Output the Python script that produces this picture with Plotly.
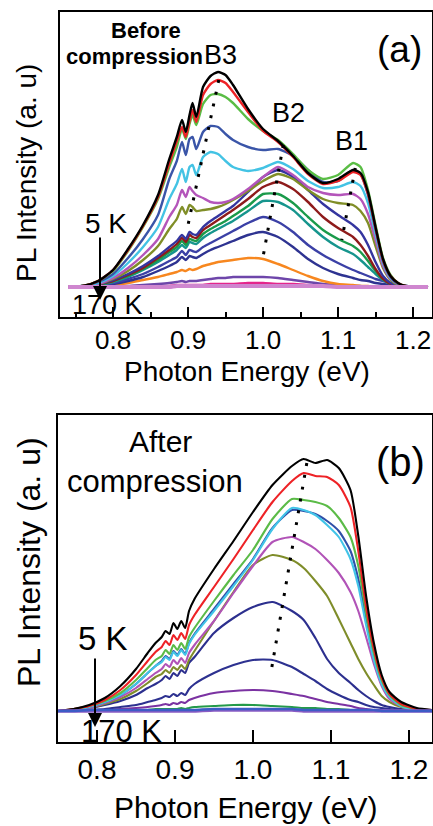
import plotly.graph_objects as go

# ---------------- Panel (a): before compression ----------------
energy_a = [0.74, 0.76, 0.78, 0.80, 0.82, 0.84, 0.86, 0.875, 0.885, 0.892, 0.897, 0.902,
            0.906, 0.911, 0.92, 0.93, 0.94, 0.95, 0.96, 0.98, 1.00, 1.02, 1.04, 1.06,
            1.08, 1.10, 1.12, 1.13, 1.14, 1.15, 1.16, 1.17, 1.18, 1.19, 1.22]

a_black = [0, 1, 6, 17, 38, 62, 92, 128, 150, 167, 155, 172, 184, 170, 200, 211, 215, 212,
           202, 178, 158, 146, 131, 114, 104, 108, 117, 114, 95, 60, 28, 11, 4, 1, 0]
a_red = [0, 1, 6, 17, 37, 61, 90, 124, 146, 160, 150, 166, 177, 165, 192, 203, 207, 204,
         195, 175, 156, 145, 130, 113, 103, 106, 115, 112, 93, 59, 27, 11, 4, 1, 0]
a_green = [0, 1, 6, 16, 36, 60, 88, 120, 140, 158, 148, 163, 172, 162, 183, 192, 193, 190,
           184, 168, 156, 147, 133, 117, 108, 112, 124, 120, 97, 62, 29, 12, 4, 1, 0]
a_blue = [0, 1, 5, 13, 29, 48, 72, 108, 126, 145, 132, 148, 150, 138, 155, 161, 160, 153,
          147, 140, 137, 138, 131, 117, 105, 106, 117, 113, 92, 58, 26, 10, 3, 1, 0]
a_cyan = [0, 1, 4, 11, 24, 40, 60, 88, 103, 118, 105, 120, 122, 112, 130, 135, 133, 126,
          120, 116, 119, 125, 118, 106, 99, 100, 105, 101, 84, 53, 24, 9, 3, 1, 0]
a_orchid = [0, 1, 3, 9, 19, 32, 48, 70, 82, 97, 90, 100, 96, 92, 89, 85, 84, 85,
            88, 98, 110, 120, 112, 100, 94, 92, 93, 88, 73, 47, 21, 8, 3, 1, 0]
a_olive = [0, 1, 3, 8, 16, 27, 41, 58, 68, 80, 73, 82, 80, 76, 77, 78, 80, 83,
           87, 96, 106, 113, 108, 97, 88, 84, 82, 76, 64, 41, 19, 7, 2, 1, 0]
a_navy = [0, 1, 3, 7, 13, 21, 31, 40, 46, 52, 48, 55, 53, 52, 60, 66, 71, 76,
          81, 95, 110, 117, 110, 97, 83, 72, 62, 55, 42, 25, 11, 4, 1, 0, 0]
a_darkred = [0, 1, 3, 6, 12, 19, 29, 37, 43, 49, 45, 52, 50, 49, 57, 62, 67, 72,
             77, 88, 100, 105, 98, 85, 70, 59, 50, 42, 31, 18, 8, 3, 1, 0, 0]
a_green2 = [0, 1, 2, 6, 11, 18, 27, 35, 40, 46, 42, 48, 47, 46, 53, 58, 62, 66,
            71, 81, 93, 93, 84, 70, 57, 48, 41, 35, 26, 16, 8, 3, 1, 0, 0]
a_teal = [0, 1, 2, 5, 10, 17, 25, 32, 37, 42, 39, 45, 44, 43, 49, 54, 58, 62,
          66, 76, 86, 85, 77, 63, 50, 40, 33, 27, 20, 13, 7, 3, 1, 0, 0]
a_blue3 = [0, 0, 2, 4, 8, 13, 20, 26, 30, 36, 32, 37, 36, 35, 40, 44, 48, 52,
           56, 64, 70, 65, 55, 42, 32, 24, 17, 14, 11, 8, 6, 4, 2, 1, 0]
a_blue4 = [0, 0, 1, 3, 6, 10, 16, 21, 25, 30, 27, 31, 30, 29, 33, 37, 40, 43,
           46, 52, 55, 50, 40, 28, 19, 13, 9, 7, 6, 4, 3, 2, 1, 0, 0]
a_orange = [0, 0, 1, 2, 4, 7, 10, 13, 15, 17, 16, 18, 17, 18, 21, 23, 25, 26,
            27, 29, 28, 23, 17, 11, 6, 3, 2, 1, 1, 0, 0, 0, 0, 0, 0]
a_purple = [0, 0, 0, 1, 1, 2, 3, 4, 5, 6, 5, 6, 6, 6, 7, 8, 9, 9,
            10, 10, 10, 9, 7, 5, 3, 2, 1, 1, 0, 0, 0, 0, 0, 0, 0]
a_pink = [0, 0, 0, 0, 0, 1, 1, 1, 2, 2, 2, 2, 2, 2, 2, 3, 3, 3,
          3, 4, 4, 3, 3, 2, 1, 1, 1, 0, 0, 0, 0, 0, 0, 0, 0]
a_lilac = [0, 0, 0, 0, 0, 0, 0, 0, 1, 1, 1, 1, 1, 1, 1, 1, 1, 1,
           1, 1, 1, 1, 1, 1, 1, 0, 0, 0, 0, 0, 0, 0, 0, 0, 0]

# peak-shift guides (energy, intensity end points)
a_b3_guide_e = [0.941, 0.900]
a_b3_guide_i = [207, 62]
a_b2_guide_e = [1.027, 1.000]
a_b2_guide_i = [142, 30]
a_b1_guide_e = [1.123, 1.105]
a_b1_guide_i = [119, 47]

# ---------------- Panel (b): after compression ----------------
energy_b = [0.75, 0.77, 0.79, 0.81, 0.83, 0.85, 0.865, 0.875, 0.883, 0.888, 0.893, 0.898,
            0.903, 0.908, 0.913, 0.918, 0.925, 0.95, 0.975, 1.0, 1.025, 1.05, 1.065, 1.08,
            1.095, 1.11, 1.125, 1.135, 1.145, 1.155, 1.165, 1.175, 1.19, 1.21, 1.23]

b_black = [0, 2, 6, 13, 25, 42, 58, 68, 74, 80, 77, 88, 82, 90, 83, 100, 112, 142,
           170, 199, 226, 245, 252, 248, 251, 243, 221, 175, 115, 68, 36, 19, 9, 3, 1]
b_red = [0, 2, 5, 11, 21, 36, 50, 59, 64, 70, 66, 76, 71, 78, 72, 86, 96, 124,
         152, 181, 209, 230, 238, 235, 234, 226, 204, 160, 104, 62, 33, 17, 7, 2, 1]
b_green = [0, 2, 5, 10, 18, 31, 43, 51, 55, 61, 57, 66, 61, 68, 62, 74, 83, 110,
           136, 161, 192, 212, 211, 209, 205, 193, 174, 145, 98, 58, 31, 16, 6, 2, 0]
b_cyan = [0, 1, 4, 9, 16, 27, 38, 45, 49, 54, 51, 59, 55, 61, 56, 67, 76, 100,
          125, 151, 182, 203, 201, 196, 186, 174, 152, 125, 86, 51, 27, 14, 5, 1, 0]
b_blue = [0, 1, 4, 9, 16, 27, 38, 45, 50, 55, 52, 60, 56, 62, 57, 68, 77, 102,
          127, 152, 183, 201, 200, 197, 190, 180, 160, 132, 92, 55, 29, 15, 6, 2, 0]
b_orchid = [0, 1, 3, 8, 14, 23, 32, 38, 42, 47, 44, 51, 47, 53, 48, 58, 66, 90,
            118, 145, 169, 174, 169, 162, 151, 138, 119, 100, 74, 47, 25, 12, 5, 1, 0]
b_olive = [0, 1, 3, 7, 12, 20, 28, 34, 37, 41, 38, 44, 41, 46, 42, 51, 60, 90,
           119, 146, 156, 151, 143, 130, 115, 92, 68, 52, 38, 26, 15, 9, 4, 1, 0]
b_navy = [0, 1, 3, 6, 10, 16, 23, 27, 31, 35, 32, 38, 35, 41, 38, 48, 54, 78,
          93, 104, 109, 100, 91, 73, 52, 38, 28, 21, 15, 10, 6, 4, 2, 1, 0]
b_navy2 = [0, 0, 1, 2, 4, 6, 9, 11, 13, 15, 14, 17, 15, 18, 16, 22, 27, 38,
           46, 51, 51, 44, 37, 30, 22, 16, 11, 9, 6, 4, 3, 2, 1, 0, 0]
b_purple = [0, 0, 1, 1, 2, 3, 4, 5, 6, 7, 6, 8, 7, 9, 8, 11, 13, 18,
            20, 21, 20, 17, 15, 12, 9, 7, 5, 3, 2, 1, 1, 0, 0, 0, 0]
b_green2 = [0, 0, 0, 0, 1, 1, 1, 2, 2, 2, 2, 2, 2, 3, 2, 3, 4, 5,
            6, 6, 5, 4, 3, 3, 2, 2, 1, 1, 1, 0, 0, 0, 0, 0, 0]
b_blue_low = [0, 0, 1, 1, 1, 1, 1, 1, 1, 1, 1, 1, 1, 1, 1, 1, 1, 2,
              2, 2, 2, 2, 1, 1, 1, 1, 1, 1, 1, 1, 0, 0, 0, 0, 0]
b_violet_low = [0, 0, 0, 0, 0, 0, 0, 0, 0, 0, 0, 0, 0, 0, 0, 0, 0, 1,
                1, 1, 1, 1, 0, 0, 0, 0, 0, 0, 0, 0, 0, 0, 0, 0, 0]

b_guide_e = [1.069, 1.024]
b_guide_i = [248, 43]

ticks_major = [0.8, 0.9, 1.0, 1.1, 1.2]
tick_text = ["0.8", "0.9", "1.0", "1.1", "1.2"]
ticks_minor = [0.75, 0.85, 0.95, 1.05, 1.15]

# ---------------- styling ----------------
FONT = "Liberation Sans, Arial, sans-serif"
W, H = 433, 826

series_a = [  # drawn bottom-up so the 5 K spectrum ends on top
    (a_pink, "#e4258c", 2.4), (a_purple, "#6e46aa", 2.4), (a_orange, "#f7871f", 2.4),
    (a_blue4, "#2e3391", 2.4), (a_blue3, "#3b40a6", 2.4), (a_teal, "#16958d", 2.4),
    (a_green2, "#1a9a4a", 2.4), (a_darkred, "#8e1b1b", 2.4), (a_navy, "#34359f", 2.4),
    (a_olive, "#808e27", 2.4), (a_orchid, "#b455ba", 2.4), (a_cyan, "#43c3e4", 2.4),
    (a_blue, "#3a55a8", 2.4), (a_green, "#5abd45", 2.4), (a_red, "#ee2226", 2.4),
    (a_black, "#000000", 2.4), (a_lilac, "#cf86cf", 4),
]
series_b = [
    (b_green2, "#249a4a", 2.1), (b_purple, "#7b32a2", 2.1), (b_navy2, "#2d3190", 2.1),
    (b_navy, "#2c2f8e", 2.1), (b_olive, "#7f8d2a", 2.1), (b_orchid, "#b153b7", 2.1),
    (b_blue, "#2f4fa8", 2.1), (b_cyan, "#42c4e8", 2.1), (b_green, "#5bbb47", 2.1),
    (b_red, "#ee2226", 2.1), (b_black, "#000000", 2.1),
    (b_violet_low, "#8a5cc4", 3.5), (b_blue_low, "#3d5cc6", 2.5),
]

fig = go.Figure()
for vals, col, lw in series_a:
    fig.add_trace(go.Scatter(x=energy_a, y=vals, mode="lines", xaxis="x", yaxis="y",
                             line=dict(color=col, width=lw, shape="spline", smoothing=0.6),
                             showlegend=False, hoverinfo="skip"))
for vals, col, lw in series_b:
    fig.add_trace(go.Scatter(x=energy_b, y=vals, mode="lines", xaxis="x2", yaxis="y2",
                             line=dict(color=col, width=lw, shape="spline", smoothing=0.6),
                             showlegend=False, hoverinfo="skip"))

dotted = dict(color="black", width=3, dash="3px,9px")
for ge, gi in [(a_b3_guide_e, a_b3_guide_i), (a_b2_guide_e, a_b2_guide_i),
               (a_b1_guide_e, a_b1_guide_i)]:
    fig.add_trace(go.Scatter(x=ge, y=gi, mode="lines", xaxis="x", yaxis="y",
                             line=dotted, showlegend=False, hoverinfo="skip"))
fig.add_trace(go.Scatter(x=b_guide_e, y=b_guide_i, mode="lines", xaxis="x2", yaxis="y2",
                         line=dotted, showlegend=False, hoverinfo="skip"))


def xaxis_style(rng, dom, size, ticklen, minor, standoff):
    d = dict(domain=dom, range=rng, tickvals=ticks_major, ticktext=tick_text,
             ticks="inside", ticklen=ticklen, tickwidth=2, tickcolor="black",
             tickfont=dict(family=FONT, size=size, color="black"),
             showline=True, linewidth=2, linecolor="black", mirror=True,
             showgrid=False, zeroline=False, ticklabelstandoff=standoff)
    if minor:
        d["minor"] = dict(tickvals=ticks_minor, ticks="inside", ticklen=5,
                          tickwidth=2, tickcolor="black")
    return d


def yaxis_style(rng, dom, anchor):
    return dict(domain=dom, range=rng, anchor=anchor, showticklabels=False, ticks="",
                showline=True, linewidth=2, linecolor="black", mirror=True,
                showgrid=False, zeroline=False)


fig.update_layout(
    width=W, height=H, margin=dict(l=0, r=0, t=0, b=0),
    paper_bgcolor="white", plot_bgcolor="white",
    xaxis=dict(xaxis_style([0.7293, 1.2253], [60 / W, 432 / W], 26, 10, True, -1), anchor="y"),
    yaxis=yaxis_style([-30, 275], [1 - 317 / H, 1 - 12 / H], "x"),
    xaxis2=dict(xaxis_style([0.75, 1.2295], [58 / W, 432 / W], 28, 12, False, 1), anchor="y2"),
    yaxis2=yaxis_style([-31, 296], [1 - 742 / H, 1 - 415 / H], "x2"),
)


def label(text, x, y, size, bold=False, anchor="center", angle=0):
    fig.add_annotation(text=f"<b>{text}</b>" if bold else text,
                       x=x / W, y=1 - y / H, xref="paper", yref="paper",
                       xanchor=anchor, yanchor="middle", showarrow=False, textangle=angle,
                       font=dict(family=FONT, size=size, color="black"))


def arrow(x, y_tail, y_tip):
    fig.add_annotation(x=x / W, y=1 - y_tip / H, xref="paper", yref="paper",
                       ax=0, ay=-(y_tip - y_tail), text="", showarrow=True,
                       arrowhead=2, arrowsize=1.4, arrowwidth=2, arrowcolor="black")


# panel (a) texts
label("Before", 146, 30, 22, bold=True)
label("compression", 64, 56, 22, bold=True, anchor="left")
label("B3", 202, 55, 27, anchor="left")
label("B2", 288, 113, 27)
label("B1", 351, 141, 27)
label("(a)", 399, 50, 37)
label("5 K", 106, 223, 28)
label("170 K", 107, 305, 27)
arrow(100, 236, 300)
label("Photon Energy (eV)", 247, 371, 28)
label("PL Intensity (a. u)", 27, 173, 28, angle=-90)

# panel (b) texts
label("After", 160, 441, 30)
label("compression", 155, 481, 31)
label("(b)", 400, 462, 40)
label("5 K", 103, 638, 33)
label("170 K", 121, 731, 31)
arrow(95, 657, 727)
label("Photon Energy (eV)", 245, 807, 30)
label("PL Intensity (a. u)", 29, 562, 32, angle=-90)

fig.write_html("out.html")
